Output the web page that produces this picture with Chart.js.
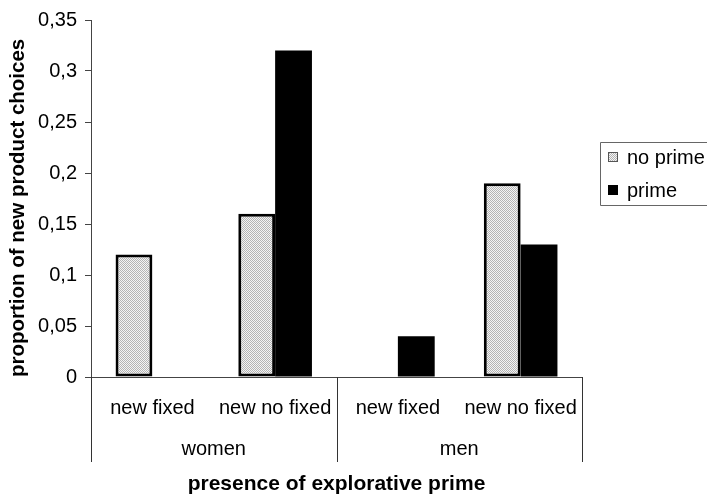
<!DOCTYPE html>
<html lang="en">
<head>
<meta charset="UTF-8">
<title>New product choices</title>
<script src="https://cdn.jsdelivr.net/npm/chart.js"></script>
<style>
  html, body { margin: 0; padding: 0; background: #fff; overflow: hidden; }
  #wrap { width: 707px; height: 496px; }
</style>
</head>
<body>
<div id="wrap"><canvas id="chart" width="707" height="496"></canvas></div>
<script>
// data
var categories = ['new fixed', 'new no fixed', 'new fixed', 'new no fixed'];
var groups = ['women', 'men'];
var noPrime = [0.12, 0.16, 0, 0.19];
var prime = [0, 0.32, 0.04, 0.13];
var yTickLabels = ['0', '0,05', '0,1', '0,15', '0,2', '0,25', '0,3', '0,35'];
var seriesNames = ['no prime', 'prime'];
var xTitle = 'presence of explorative prime';
var yTitle = 'proportion of new product choices';

Chart.defaults.font.family = '"Liberation Sans", Arial, sans-serif';
Chart.defaults.color = '#000';

// dotted light grey fill like the printed figure
function stipple() {
    var c = document.createElement('canvas');
    c.width = 2; c.height = 2;
    var g = c.getContext('2d');
    g.fillStyle = '#f4f4f4';
    g.fillRect(0, 0, 2, 2);
    g.fillStyle = '#b4b4b4';
    g.fillRect(0, 0, 1, 1);
    g.fillRect(1, 1, 1, 1);
    return g.createPattern(c, 'repeat');
}
var dots = stipple();

// group labels, divider lines under the axis and the boxed legend
var groupAxis = {
    id: 'groupAxis',
    afterDraw: function (chart) {
        var ctx = chart.ctx;
        var x = chart.scales.x;
        var area = chart.chartArea;
        var half = (x.getPixelForValue(1) - x.getPixelForValue(0)) / 2;
        var edges = [x.getPixelForValue(0) - half, x.getPixelForValue(1) + half, x.getPixelForValue(3) + half];
        ctx.save();
        ctx.strokeStyle = '#333';
        ctx.lineWidth = 1;
        edges.forEach(function (e) {
            var px = Math.round(e) + 0.5;
            ctx.beginPath();
            ctx.moveTo(px, area.bottom);
            ctx.lineTo(px, area.bottom + 85);
            ctx.stroke();
        });
        ctx.fillStyle = '#000';
        ctx.font = '20px "Liberation Sans", Arial, sans-serif';
        ctx.textAlign = 'center';
        ctx.textBaseline = 'alphabetic';
        groups.forEach(function (g, i) {
            ctx.fillText(g, (edges[i] + edges[i + 1]) / 2, area.bottom + 78);
        });

        // legend (box runs off the right edge as in the figure)
        var lx = area.right + 18, ly = 142;
        ctx.strokeStyle = '#666';
        ctx.beginPath();
        ctx.moveTo(chart.width + 5, ly + 0.5);
        ctx.lineTo(lx + 0.5, ly + 0.5);
        ctx.lineTo(lx + 0.5, ly + 63.5);
        ctx.lineTo(chart.width + 5, ly + 63.5);
        ctx.stroke();
        ctx.font = '20px "Liberation Sans", Arial, sans-serif';
        ctx.textAlign = 'left';
        ctx.textBaseline = 'middle';
        seriesNames.forEach(function (name, i) {
            var cy = ly + 15 + i * 33;
            ctx.fillStyle = i === 0 ? dots : '#000';
            ctx.fillRect(lx + 8, cy - 5, 10, 10);
            if (i === 0) {
                ctx.strokeStyle = '#555';
                ctx.strokeRect(lx + 8.5, cy - 4.5, 9, 9);
            }
            ctx.fillStyle = '#000';
            ctx.fillText(name, lx + 27, cy + 1);
        });
        ctx.restore();
    }
};

new Chart(document.getElementById('chart'), {
    type: 'bar',
    data: {
        labels: categories,
        datasets: [{
            label: seriesNames[0],
            data: noPrime,
            backgroundColor: dots,
            borderColor: '#000',
            borderWidth: function (c) { return c.raw ? 3 : 0; },
            borderSkipped: false,
            categoryPercentage: 0.6,
            barPercentage: 1
        }, {
            label: seriesNames[1],
            data: prime,
            backgroundColor: '#000',
            borderWidth: 0,
            categoryPercentage: 0.6,
            barPercentage: 1
        }]
    },
    options: {
        responsive: false,
        animation: false,
        layout: { padding: { top: 17, right: 125, left: 0, bottom: 0 } },
        plugins: {
            legend: { display: false },
            tooltip: { enabled: false }
        },
        scales: {
            x: {
                grid: { display: false, drawTicks: false },
                border: { color: '#444' },
                ticks: { padding: 19, maxRotation: 0, autoSkip: false, font: { size: 20 } },
                title: {
                    display: true,
                    text: xTitle,
                    font: { size: 21, weight: 'bold', lineHeight: 1 },
                    padding: { top: 0, bottom: 1 }
                },
                afterFit: function (s) { s.height = 119; }
            },
            y: {
                min: 0,
                max: 0.35,
                grid: { drawOnChartArea: false, tickLength: 6, color: '#444' },
                border: { color: '#444' },
                ticks: {
                    stepSize: 0.05,
                    padding: 8,
                    font: { size: 20 },
                    callback: function (v, i) { return yTickLabels[i]; }
                },
                title: {
                    display: true,
                    text: yTitle,
                    align: 'start',
                    font: { size: 20.5, weight: 'bold', lineHeight: 1 },
                    padding: { top: 8, bottom: 0 }
                },
                afterFit: function (s) { s.width = 91; }
            }
        }
    },
    plugins: [groupAxis]
});
</script>
</body>
</html>
